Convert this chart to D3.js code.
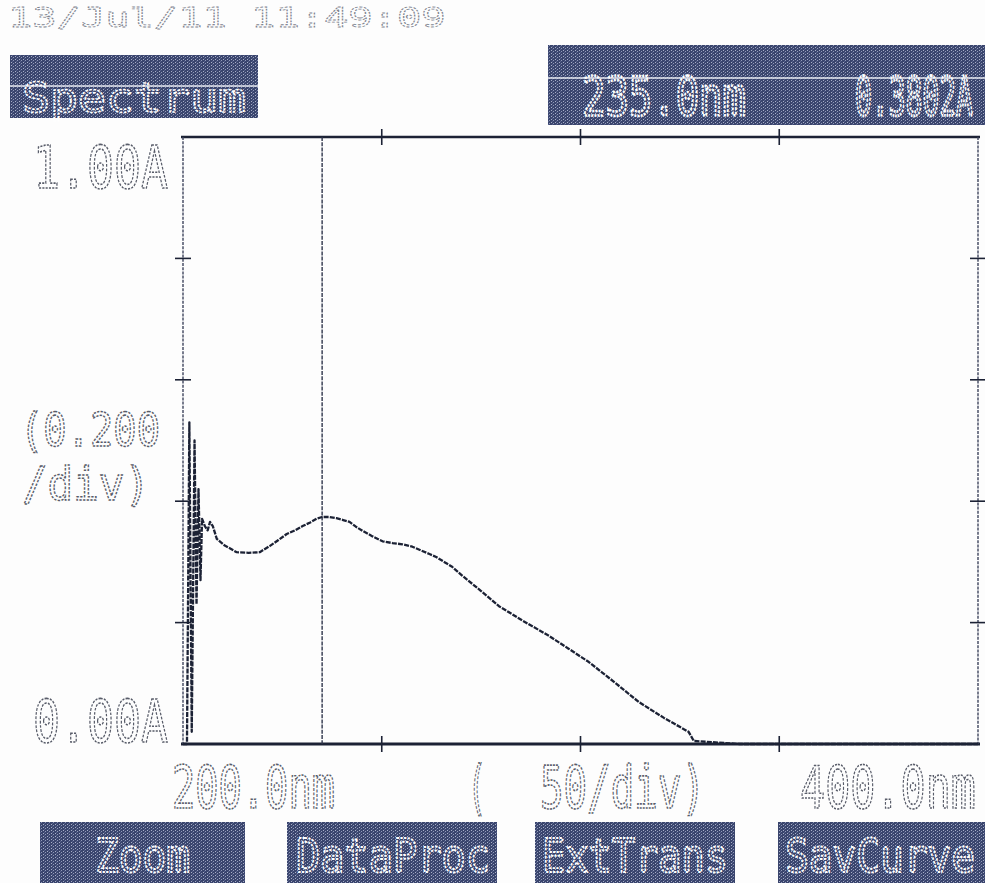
<!DOCTYPE html>
<html>
<head>
<meta charset="utf-8">
<script src="https://cdn.jsdelivr.net/npm/d3@7/dist/d3.min.js"></script>
<style>
  html, body { margin: 0; padding: 0; background: #fdfdfd; }
  svg { display: block; }
</style>
</head>
<body>
<svg id="chart" width="985" height="883"></svg>
<script>
// ---------------- DATA ----------------
const wavelength = [200.0, 201.0, 201.6, 202.2, 202.9, 203.4, 203.9, 204.4, 204.8, 205.5,
  206.2, 206.8, 207.5, 208.5, 210.5, 213.5, 216.5, 219.3, 221.8, 224.0,
  226.1, 228.2, 230.1, 232.0, 233.6, 235.0, 236.8, 238.6, 240.3, 241.9,
  243.5, 245.2, 247.7, 250.2, 252.7, 255.2, 257.7, 260.2, 262.0, 263.7,
  265.7, 267.7, 270.3, 275.0, 279.5, 285.5, 292.1, 297.0, 302.1, 308.5,
  314.7, 321.0, 327.2, 328.5, 340.0, 400.0];
const absorbance = [0.00, 0.00, 0.53, 0.02, 0.50, 0.23, 0.42, 0.27, 0.371, 0.359,
  0.352, 0.366, 0.359, 0.338, 0.327, 0.316, 0.315, 0.316, 0.326, 0.336,
  0.346, 0.352, 0.359, 0.365, 0.371, 0.374, 0.374, 0.372, 0.369, 0.366,
  0.358, 0.351, 0.342, 0.334, 0.331, 0.329, 0.325, 0.318, 0.313, 0.308,
  0.300, 0.292, 0.277, 0.252, 0.227, 0.203, 0.178, 0.157, 0.135, 0.102,
  0.069, 0.043, 0.020, 0.005, 0.000, 0.000];
const xTicks = [250, 300, 350];
const yTicks = [0.2, 0.4, 0.6, 0.8];
const cursorNm = 235.0;
const cursorAbs = 0.3802;
const timestamp = "13/Jul/11  11:49:09";
const modeLabel = "Spectrum";
const xMinLabel = "200.0nm";
const xMaxLabel = "400.0nm";
const xDivLabel = "50/div)";
const yMaxLabel = "1.00A";
const yMinLabel = "0.00A";
const yDivLabel = ["(0.200", "/div)"];
const buttons = ["Zoom", "DataProc", "ExtTrans", "SavCurve"];

// ---------------- SETUP ----------------
const svg = d3.select("#chart");
const W = 985, H = 883;
const plot = { left: 183, right: 978, top: 137, bottom: 744 };
const x = d3.scaleLinear().domain([200, 400]).range([plot.left, plot.right]);
const y = d3.scaleLinear().domain([0, 1]).range([plot.bottom, plot.top]);

const FONT = "'DejaVu Sans Mono', 'Liberation Mono', monospace";
const INK = "#1c2235";

svg.append("rect").attr("width", W).attr("height", H).attr("fill", "#fdfdfd");

// halftone pattern for the dark boxes
const defs = svg.append("defs");
const pat = defs.append("pattern").attr("id", "half").attr("patternUnits", "userSpaceOnUse")
  .attr("width", 4).attr("height", 3);
pat.append("rect").attr("width", 4).attr("height", 3).attr("fill", "#3a456d");
pat.append("rect").attr("x", 1).attr("y", 0).attr("width", 1).attr("height", 1).attr("fill", "#8f98b8");
pat.append("rect").attr("x", 3).attr("y", 2).attr("width", 1).attr("height", 1).attr("fill", "#a7aec8");
pat.append("rect").attr("x", 0).attr("y", 1).attr("width", 1).attr("height", 1).attr("fill", "#56618c");

// narrow, dotted-outline printer-style text: scaled horizontally to the wanted width
function outlineText(g, str, xPos, baseY, size, len, color, sw) {
  const natural = str.length * 0.602 * size;
  const sx = len / natural;
  return g.append("text")
    .attr("transform", `translate(${xPos},${baseY}) scale(${sx},1)`)
    .attr("x", 0).attr("y", 0)
    .attr("font-family", FONT).attr("font-size", size)
    .attr("fill", "none").attr("stroke", color).attr("stroke-width", sw)
    .attr("vector-effect", "non-scaling-stroke")
    .attr("stroke-dasharray", "2.4 1.4")
    .text(str);
}

function box(x0, y0, w, h, stripeY) {
  svg.append("rect").attr("x", x0).attr("y", y0).attr("width", w).attr("height", h)
    .attr("fill", "url(#half)");
  if (stripeY != null) {
    svg.append("line").attr("x1", x0).attr("x2", x0 + w).attr("y1", stripeY).attr("y2", stripeY)
      .attr("stroke", "#e8ebf3").attr("stroke-width", 1.5);
  }
}

// ---------------- HEADER ----------------
outlineText(svg, timestamp, 8, 27, 26, 462, "#80848f", 1.1);

box(10, 55, 248, 63, 86);
outlineText(svg, modeLabel, 22, 112, 40, 224, "#ffffff", 1.8);

box(548, 45, 437, 80, 78);
outlineText(svg, cursorNm.toFixed(1) + "nm", 582, 115, 54, 164, "#ffffff", 2.2);
outlineText(svg, cursorAbs.toFixed(4) + "A", 855, 115, 54, 118, "#ffffff", 2.2);

// ---------------- FRAME ----------------
const frame = svg.append("g");
frame.append("line").attr("x1", plot.left - 2).attr("x2", plot.right + 2)
  .attr("y1", plot.top).attr("y2", plot.top).attr("stroke", INK).attr("stroke-width", 2.4);
frame.append("line").attr("x1", plot.left - 2).attr("x2", plot.right + 2)
  .attr("y1", plot.bottom).attr("y2", plot.bottom).attr("stroke", INK).attr("stroke-width", 2.8);
frame.append("line").attr("x1", plot.left).attr("x2", plot.left)
  .attr("y1", plot.top).attr("y2", plot.bottom).attr("stroke", "#3e445c").attr("stroke-width", 1.4)
  .attr("stroke-dasharray", "3 1.2");
frame.append("line").attr("x1", plot.right).attr("x2", plot.right)
  .attr("y1", plot.top).attr("y2", plot.bottom).attr("stroke", "#3e445c").attr("stroke-width", 1.4)
  .attr("stroke-dasharray", "3 1.2");

// y ticks (crosses) on left and right
[plot.left, plot.right].forEach(px => {
  frame.selectAll(null).data(yTicks).enter().append("line")
    .attr("x1", px - 8).attr("x2", px + 8)
    .attr("y1", d => y(d)).attr("y2", d => y(d))
    .attr("stroke", INK).attr("stroke-width", 1.6);
});
// x ticks on top and bottom
[plot.top, plot.bottom].forEach(py => {
  frame.selectAll(null).data(xTicks).enter().append("line")
    .attr("x1", d => x(d)).attr("x2", d => x(d))
    .attr("y1", py - 8).attr("y2", py + 8)
    .attr("stroke", INK).attr("stroke-width", 1.6);
});

// ---------------- CURSOR ----------------
svg.append("line")
  .attr("x1", x(cursorNm)).attr("x2", x(cursorNm))
  .attr("y1", plot.top).attr("y2", plot.bottom)
  .attr("stroke", "#30364c").attr("stroke-width", 1.4)
  .attr("stroke-dasharray", "4 1.2");

// ---------------- CURVE ----------------
const pts = wavelength.map((w, i) => [w, absorbance[i]]);
const line = d3.line().x(d => x(d[0])).y(d => y(d[1]));
svg.append("path").datum(pts)
  .attr("d", line)
  .attr("fill", "none")
  .attr("stroke", INK)
  .attr("stroke-width", 2.3)
  .attr("stroke-dasharray", "5 1.2")
  .attr("stroke-linejoin", "round");

// ---------------- AXIS LABELS ----------------
const LBL = "#585c69";
outlineText(svg, yMaxLabel, 33, 188, 58, 135, LBL, 1.4);
outlineText(svg, yDivLabel[0], 20, 446, 46, 140, LBL, 1.4);
outlineText(svg, yDivLabel[1], 22, 500, 46, 128, LBL, 1.4);
outlineText(svg, yMinLabel, 33, 742, 58, 135, LBL, 1.4);

outlineText(svg, xMinLabel, 172, 808, 58, 163, LBL, 1.4);
outlineText(svg, "(", 468, 808, 58, 18, LBL, 1.4);
outlineText(svg, xDivLabel, 540, 808, 58, 165, LBL, 1.4);
outlineText(svg, xMaxLabel, 800, 808, 58, 176, LBL, 1.4);

// ---------------- BUTTONS ----------------
const btn = [
  { x0: 40, w: 205, tx: 95, tl: 95 },
  { x0: 287, w: 210, tx: 296, tl: 194 },
  { x0: 535, w: 200, tx: 542, tl: 186 },
  { x0: 778, w: 207, tx: 785, tl: 190 }
];
buttons.forEach((b, i) => {
  box(btn[i].x0, 822, btn[i].w, 62, null);
  outlineText(svg, b, btn[i].tx, 872, 46, btn[i].tl, "#ffffff", 1.8);
});
</script>
</body>
</html>
